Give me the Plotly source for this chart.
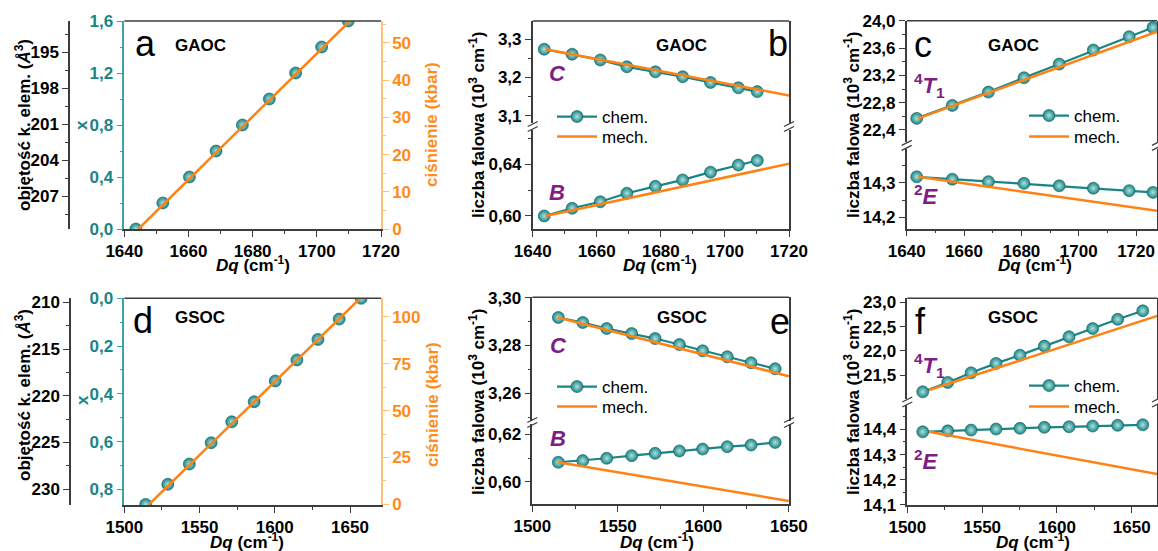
import plotly.graph_objects as go

W, H = 1158, 551

# ---------------- data ----------------
# (a) GAOC: composition x and pressure vs Dq
dq_a = [1643.6, 1652.0, 1660.3, 1668.6, 1676.8, 1685.2, 1693.4, 1701.5, 1709.8]
x_a = [0.0, 0.2, 0.4, 0.6, 0.8, 1.0, 1.2, 1.4, 1.6]
dq_p_a = [1644.4, 1710.3]
p_a = [0.0, 55.9]

# (b) GAOC: C and B levels
dq_b = [1643.6, 1652.3, 1661.1, 1669.4, 1678.3, 1686.8, 1695.5, 1704.2, 1710.1]
c_chem_b = [3.274, 3.261, 3.246, 3.228, 3.215, 3.202, 3.187, 3.173, 3.163]
b_chem_b = [0.600, 0.606, 0.611, 0.6176, 0.623, 0.628, 0.634, 0.6395, 0.643]
dq_mech_b = [1644.0, 1720.0]
c_mech_b = [3.274, 3.153]
b_mech_b = [0.600, 0.6405]

# (c) GAOC: 4T1 and 2E levels
dq_c = [1643.5, 1655.9, 1668.5, 1680.9, 1693.2, 1705.1, 1717.6, 1725.9]
t1_chem_c = [22.57, 22.76, 22.955, 23.165, 23.366, 23.571, 23.766, 23.90]
e_chem_c = [14.317, 14.310, 14.303, 14.298, 14.291, 14.284, 14.277, 14.272]
dq_mech_c = [1644.0, 1727.3]
t1_mech_c = [22.57, 23.84]
e_mech_c = [14.317, 14.219]

# (d) GSOC: composition x and pressure vs Dq
dq_d = [1514.2, 1528.9, 1543.2, 1557.7, 1571.4, 1586.3, 1600.3, 1614.7, 1628.7, 1642.8, 1657.4]
x_d = [0.863, 0.779, 0.694, 0.605, 0.517, 0.433, 0.346, 0.258, 0.172, 0.087, 0.0]
dq_p_d = [1516.4, 1656.7]
p_d = [0.0, 109.8]

# (e) GSOC: C and B levels
dq_e = [1515.2, 1529.5, 1543.5, 1558.1, 1571.8, 1586.0, 1599.6, 1614.0, 1627.9, 1642.0]
c_chem_e = [3.2917, 3.2896, 3.2871, 3.2850, 3.2829, 3.2804, 3.2778, 3.2753, 3.2728, 3.2703]
b_chem_e = [0.6082, 0.6089, 0.6099, 0.6110, 0.6120, 0.6130, 0.6138, 0.6148, 0.6155, 0.6166]
dq_mech_e = [1515.0, 1650.0]
c_mech_e = [3.2917, 3.2672]
b_mech_e = [0.6082, 0.5918]

# (f) GSOC: 4T1 and 2E levels
dq_f = [1510.3, 1527.0, 1542.6, 1559.3, 1575.3, 1591.6, 1608.1, 1623.9, 1640.6, 1657.4]
t1_chem_f = [21.153, 21.347, 21.545, 21.74, 21.91, 22.097, 22.29, 22.46, 22.65, 22.826]
e_chem_f = [14.390, 14.394, 14.397, 14.401, 14.404, 14.408, 14.410, 14.413, 14.416, 14.418]
dq_mech_f = [1514.5, 1667.0]
t1_mech_f = [21.19, 22.72]
e_mech_f = [14.390, 14.223]

# ---------------- style ----------------
TEAL = "#1A8585"
TEAL_AX = "#3AA3A3"
ORANGE = "#FF8214"
ORANGE_TXT = "#FF8C1A"
ORANGE_AX = "#FFBE7A"
PURPLE = "#7E1E84"
AXC = "#3C3C3C"
FONT = "Liberation Sans"
TICK_SIZE = 17


def fx(px):
    return px / W


def fy(py):
    return 1 - py / H


def marker():
    return dict(size=12, color=TEAL, gradient=dict(type="radial", color="#AEE2DE"),
                line=dict(width=0.6, color="#0F6060"))


fig = go.Figure()


def chem(x, y, xa, ya, name="chem.", legend=None, showlegend=False, line=True):
    fig.add_trace(go.Scatter(
        x=x, y=y, xaxis=xa, yaxis=ya, mode="lines+markers" if line else "markers",
        line=dict(color=TEAL, width=2.2), marker=marker(), name=name,
        showlegend=showlegend, legend=legend, hoverinfo="skip"))


def mech(x, y, xa, ya, name="mech.", legend=None, showlegend=False):
    fig.add_trace(go.Scatter(
        x=x, y=y, xaxis=xa, yaxis=ya, mode="lines",
        line=dict(color=ORANGE, width=2.5), name=name,
        showlegend=showlegend, legend=legend, hoverinfo="skip"))


# (a)
chem(dq_a, x_a, "x", "y", line=False)
mech(dq_p_a, p_a, "x", "y2")
fig.add_trace(go.Scatter(x=[], y=[], xaxis="x", yaxis="y3", showlegend=False))
# (b)
chem(dq_b, c_chem_b, "x2", "y4", legend="legend", showlegend=True)
mech(dq_mech_b, c_mech_b, "x2", "y4", legend="legend2", showlegend=True)
chem(dq_b, b_chem_b, "x2", "y5")
mech(dq_mech_b, b_mech_b, "x2", "y5")
# (c)
chem(dq_c, t1_chem_c, "x3", "y6", legend="legend3", showlegend=True)
mech(dq_mech_c, t1_mech_c, "x3", "y6", legend="legend4", showlegend=True)
chem(dq_c, e_chem_c, "x3", "y7")
mech(dq_mech_c, e_mech_c, "x3", "y7")
# (d)
chem(dq_d, x_d, "x4", "y8", line=False)
mech(dq_p_d, p_d, "x4", "y9")
fig.add_trace(go.Scatter(x=[], y=[], xaxis="x4", yaxis="y10", showlegend=False))
# (e)
chem(dq_e, c_chem_e, "x5", "y11", legend="legend5", showlegend=True)
mech(dq_mech_e, c_mech_e, "x5", "y11", legend="legend6", showlegend=True)
chem(dq_e, b_chem_e, "x5", "y12")
mech(dq_mech_e, b_mech_e, "x5", "y12")
# (f)
chem(dq_f, t1_chem_f, "x6", "y13", legend="legend7", showlegend=True)
mech(dq_mech_f, t1_mech_f, "x6", "y13", legend="legend8", showlegend=True)
chem(dq_f, e_chem_f, "x6", "y14")
mech(dq_mech_f, e_mech_f, "x6", "y14")


def ax(linecolor=AXC, fontcolor="#000", dtick=None, tick0=None, minor=None, fmt=None, **kw):
    d = dict(showline=True, linecolor=linecolor, linewidth=1.5, ticks="outside",
             ticklen=6, tickwidth=1.3, tickcolor=linecolor, showgrid=False,
             zeroline=False, fixedrange=True, automargin=False,
             tickfont=dict(family=FONT, size=TICK_SIZE, color=fontcolor, weight="bold"))
    if dtick is not None:
        d["dtick"] = dtick
    if tick0 is not None:
        d["tick0"] = tick0
    if fmt is not None:
        d["tickformat"] = fmt
    if minor is not None:
        d["minor"] = dict(ticks="outside", ticklen=3, tickwidth=1.1, showgrid=False,
                          tickcolor=linecolor, dtick=minor, tick0=tick0 if tick0 is not None else 0)
    d.update(kw)
    return d


layout = dict(
    template="none",
    width=W, height=H, margin=dict(l=0, r=0, t=0, b=0, autoexpand=False),
    paper_bgcolor="white", plot_bgcolor="rgba(0,0,0,0)",
    separators=", ", showlegend=True,
    font=dict(family=FONT, size=16, color="#000"),
)

# ---- panel a ----
layout["xaxis"] = ax(domain=[fx(124.3), fx(381)], range=[1640, 1720], anchor="y",
                     dtick=20, tick0=1640, minor=10)
layout["yaxis"] = ax(TEAL_AX, TEAL, domain=[fy(229), fy(21)], range=[0, 1.6001], anchor="x",
                     dtick=0.4, tick0=0, minor=0.2, fmt=".1f")
layout["yaxis2"] = ax(ORANGE_AX, ORANGE_TXT, overlaying="y", side="right", anchor="x",
                      range=[0, 55.9], dtick=10, tick0=0, minor=5)
layout["yaxis3"] = ax(AXC, "#000", overlaying="y", side="left", anchor="free",
                      position=fx(69), range=[209.75, 192.4], dtick=3, tick0=195, minor=1.5)
# ---- panel b ----
layout["xaxis2"] = ax(domain=[fx(532.7), fx(789)], range=[1640, 1720], anchor="y5",
                      dtick=20, tick0=1640, minor=10)
layout["yaxis4"] = ax(domain=[fy(123), fy(21)], range=[3.0808, 3.348], anchor="x2",
                      dtick=0.1, tick0=3.1, minor=0.05, fmt=".1f", mirror=True)
layout["yaxis5"] = ax(domain=[fy(229), fy(130)], range=[0.5899, 0.6667], anchor="x2",
                      dtick=0.04, tick0=0.60, minor=0.02, fmt=".2f", mirror=True)
# ---- panel c ----
layout["xaxis3"] = ax(domain=[fx(906.7), fx(1157)], range=[1640, 1727.3], anchor="y7",
                      dtick=20, tick0=1640, minor=10)
layout["yaxis6"] = ax(domain=[fy(142), fy(20.67)], range=[22.224, 24.001], anchor="x3",
                      dtick=0.4, tick0=22.4, minor=0.2, fmt=".1f", mirror=True)
layout["yaxis7"] = ax(domain=[fy(228.67), fy(148.7)], range=[14.1673, 14.398], anchor="x3",
                      dtick=0.1, tick0=14.2, minor=0.05, fmt=".1f", mirror=True)
# ---- panel d ----
layout["xaxis4"] = ax(domain=[fx(124.33), fx(381)], range=[1500, 1670.6], anchor="y8",
                      dtick=50, tick0=1500, minor=25)
layout["yaxis8"] = ax(TEAL_AX, TEAL, domain=[fy(505.33), fy(298.33)], range=[0.867, -0.0001],
                      anchor="x4", dtick=0.2, tick0=0, minor=0.1, fmt=".1f")
layout["yaxis9"] = ax(ORANGE_AX, ORANGE_TXT, overlaying="y8", side="right", anchor="x4",
                      range=[-0.5, 109.8], dtick=25, tick0=0, minor=12.5)
layout["yaxis10"] = ax(AXC, "#000", overlaying="y8", side="left", anchor="free",
                       position=fx(70), range=[231.75, 209.571], dtick=5, tick0=210, minor=2.5)
# ---- panel e ----
layout["xaxis5"] = ax(domain=[fx(532.33), fx(789)], range=[1500, 1650.1], anchor="y12",
                      dtick=50, tick0=1500, minor=25)
layout["yaxis11"] = ax(domain=[fy(421), fy(297.33)], range=[3.2485, 3.3001], anchor="x5",
                       dtick=0.02, tick0=3.26, minor=0.01, fmt=".2f", mirror=True)
layout["yaxis12"] = ax(domain=[fy(504.33), fy(424)], range=[0.5904, 0.6244], anchor="x5",
                       dtick=0.02, tick0=0.60, minor=0.01, fmt=".2f", mirror=True)
# ---- panel f ----
layout["xaxis6"] = ax(domain=[fx(907.33), fx(1157)], range=[1500, 1666.9], anchor="y14",
                      dtick=50, tick0=1500, minor=25)
layout["yaxis13"] = ax(domain=[fy(399), fy(298.33)], range=[21.0046, 23.083], anchor="x6",
                       dtick=0.5, tick0=21.5, fmt=".1f", mirror=True)
layout["yaxis14"] = ax(domain=[fy(505), fy(405)], range=[14.0999, 14.4965], anchor="x6",
                       dtick=0.1, tick0=14.1, minor=0.05, fmt=".1f", mirror=True)


# legends (one entry each, so that the row spacing matches)
def leg(px, py):
    return dict(x=fx(px), y=fy(py), xanchor="left", yanchor="middle",
                bgcolor="rgba(0,0,0,0)", font=dict(family=FONT, size=17, color="#000"),
                itemwidth=40, tracegroupgap=0, borderwidth=0)


for i, (px, py) in enumerate([(552, 117), (552, 137), (1024, 116), (1024, 137),
                              (552, 387), (552, 407), (1024, 386), (1024, 407)]):
    layout["legend" if i == 0 else "legend%d" % (i + 1)] = leg(px, py)

# shapes: top frame lines and axis-break marks
shapes = []
for x0, x1, y in [(124.3, 381, 21), (532.7, 789, 21), (906.7, 1157, 20.67),
                  (124.33, 381, 298.33), (532.33, 789, 297.33), (907.33, 1157, 298.33)]:
    shapes.append(dict(type="line", xref="paper", yref="paper", x0=fx(x0), x1=fx(x1),
                       y0=fy(y), y1=fy(y), line=dict(color=AXC, width=1.5)))
for xc, yc in [(532.7, 126.5), (789, 126.5), (906.7, 145.3), (1157, 145.3),
               (532.3, 422.5), (789, 422.5), (907.3, 402), (1157, 402)]:
    for dy in (-2.5, 2.5):
        shapes.append(dict(type="line", xref="paper", yref="paper",
                           x0=fx(xc - 5), x1=fx(xc + 5), y0=fy(yc + dy + 2.5), y1=fy(yc + dy - 2.5),
                           line=dict(color=AXC, width=1.3)))
layout["shapes"] = shapes

anns = []


def ann(text, px, py, size=16, color="#000", angle=0, weight="normal"):
    anns.append(dict(text=text, x=fx(px), y=fy(py), xref="paper", yref="paper",
                     xanchor="center", yanchor="middle", showarrow=False, textangle=angle,
                     font=dict(family=FONT, size=size, color=color, weight=weight)))


# panel letters and sample names
for t, px, py in [("a", 145, 44), ("b", 778, 44), ("c", 923, 45),
                  ("d", 143, 320), ("e", 780, 321), ("f", 920, 321)]:
    ann(t, px, py, size=36)
for t, px, py in [("GAOC", 200, 46), ("GAOC", 681, 46), ("GAOC", 1013, 46),
                  ("GSOC", 200, 317), ("GSOC", 682, 317), ("GSOC", 1013, 317)]:
    ann(t, px, py, size=17, weight="bold")

# state labels
for t, px, py in [("<i>C</i>", 557, 73), ("<i>B</i>", 557, 193),
                  ("<sup>4</sup><i>T</i><sub>1</sub>", 929, 85), ("<sup>2</sup><i>E</i>", 926, 195),
                  ("<i>C</i>", 558, 345), ("<i>B</i>", 558, 438),
                  ("<sup>4</sup><i>T</i><sub>1</sub>", 929, 365), ("<sup>2</sup><i>E</i>", 926, 460)]:
    ann(t, px, py, size=22, color=PURPLE, weight="bold")

# axis titles
vol_t = "objętość k. elem. (<i>Å</i><sup>3</sup>)"
lf_t = "liczba falowa (10<sup>3</sup> cm<sup>-1</sup>)"
dq_t = "<i>Dq</i> (cm<sup>-1</sup>)"
ann(vol_t, 23, 125, size=17, angle=-90, weight="bold")
ann(vol_t, 23, 395, size=17, angle=-90, weight="bold")
ann("x", 82, 125, size=17, color=TEAL, angle=-90, weight="bold")
ann("x", 82, 400, size=17, color=TEAL, angle=-90, weight="bold")
ann("ciśnienie (kbar)", 432, 125, size=17, color=ORANGE_TXT, angle=-90, weight="bold")
ann("ciśnienie (kbar)", 432, 405, size=17, color=ORANGE_TXT, angle=-90, weight="bold")
ann(lf_t, 477, 125, size=17, angle=-90, weight="bold")
ann(lf_t, 852, 125, size=17, angle=-90, weight="bold")
ann(lf_t, 477, 402, size=17, angle=-90, weight="bold")
ann(lf_t, 852, 402, size=17, angle=-90, weight="bold")
for px, py in [(253, 264), (660, 264), (1035, 264), (247, 541), (657, 541), (1033, 541)]:
    ann(dq_t, px, py, size=17, weight="bold")
layout["annotations"] = anns

fig.update_layout(**layout)
fig.write_html("out.html")
